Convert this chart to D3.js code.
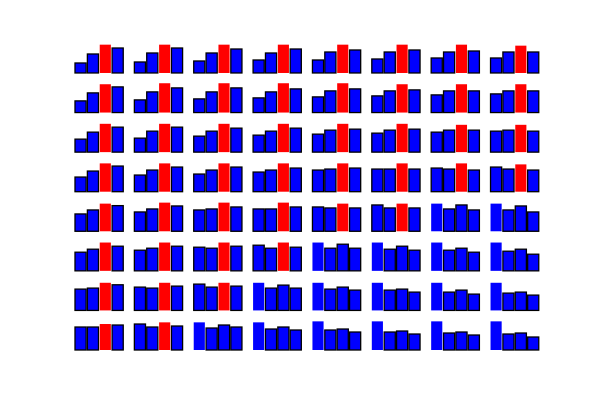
<!DOCTYPE html>
<html>
<head>
<meta charset="utf-8">
<script src="https://cdn.jsdelivr.net/npm/d3@7"></script>
<style>
  html, body { margin: 0; padding: 0; background: #ffffff; }
  svg { display: block; }
</style>
</head>
<body>
<svg id="chart" width="600" height="400"></svg>
<script>
// Bar heights for each of the 8x8 small panels (4 bars each), row by row.
const categories = [0, 1, 2, 3];
const row1 = [[30,57,85,75],[33,60,85,75],[36,60,85,72],[39,60,85,72],[39,63,85,69],[42,63,85,69],[45,63,85,66],[45,63,82,63]];
const row2 = [[35,59,85,77],[38,62,88,74],[41,62,88,74],[44,62,88,71],[47,65,88,71],[50,65,85,68],[53,65,85,65],[56,65,85,65]];
const row3 = [[39,60,85,75],[42,63,85,75],[48,63,85,72],[51,63,85,72],[54,66,85,69],[57,66,85,69],[60,66,82,66],[63,66,82,63]];
const row4 = [[44,62,85,77],[50,65,85,74],[53,65,85,74],[59,65,85,71],[65,68,85,71],[68,68,85,68],[71,68,85,65],[74,68,82,65]];
const row5 = [[52,64,83,77],[58,67,86,76],[64,67,86,73],[67,67,86,73],[73,70,83,70],[79,70,83,70],[83,67,79,64],[83,64,76,58]];
const row6 = [[56,65,85,74],[62,68,85,74],[71,68,85,74],[77,68,85,71],[85,68,80,68],[85,65,74,62],[85,62,68,56],[85,59,65,50]];
const row7 = [[64,67,83,77],[70,67,83,73],[79,70,83,73],[83,67,76,67],[83,64,70,61],[83,61,64,55],[83,55,61,49],[83,52,55,46]];
const row8 = [[69,69,78,75],[78,69,83,72],[83,66,75,69],[83,63,69,60],[86,60,63,54],[86,54,57,48],[86,51,54,45],[86,48,51,39]];
const rows = [row1, row2, row3, row4, row5, row6, row7, row8];
const yMax = 99;

const svg = d3.select("#chart");
const W = 600, H = 400;
const pad = 0.2 / 1.2;
const colScale = d3.scaleBand().domain(d3.range(8)).range([0.125 * W, 0.9 * W]).paddingInner(pad);
const rowScale = d3.scaleBand().domain(d3.range(8)).range([0.1 * H, 0.875 * H]).paddingInner(pad);

rows.forEach((row, r) => {
  row.forEach((vals, c) => {
    const x0 = colScale(c), y0 = rowScale(r);
    const w = colScale.bandwidth(), h = rowScale.bandwidth();
    const x = d3.scaleLinear().domain([0, categories.length]).range([x0, x0 + w]);
    const y = d3.scaleLinear().domain([0, yMax]).range([y0 + h, y0]);
    const imax = d3.maxIndex(vals);
    const g = svg.append("g");
    g.selectAll("rect")
      .data(vals.map((v, i) => ({ v, i })))
      .join("rect")
      .attr("x", d => x(categories[d.i]))
      .attr("width", d => x(0.9) - x(0))
      .attr("y", d => y(d.v))
      .attr("height", d => y(0) - y(d.v))
      .attr("fill", d => (d.i === imax && d.i === 2) ? "#ff0000" : "#0000ff")
      .attr("stroke", d => d.i === imax ? "none" : "#000000")
      .attr("stroke-width", 1.3);
  });
});
</script>
</body>
</html>
